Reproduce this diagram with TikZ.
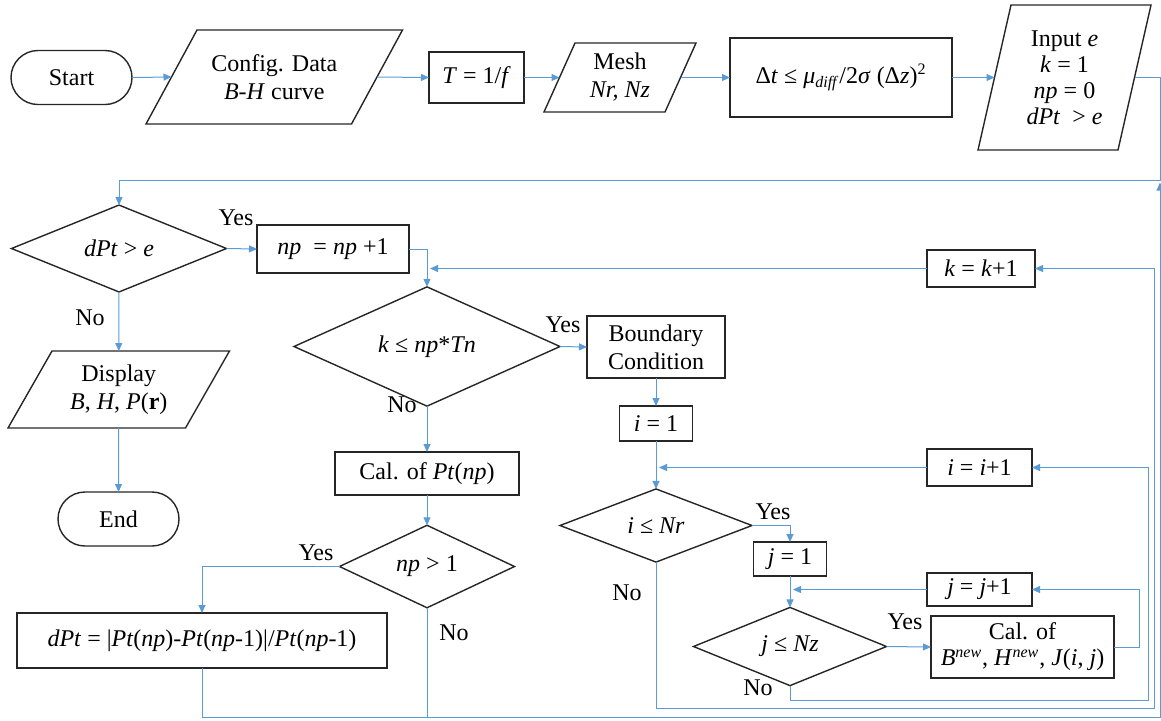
\documentclass[tikz,border=0pt]{standalone}
\usepackage{fontspec}
\setmainfont{LiberationSerif}[Extension=.ttf, UprightFont=*-Regular, ItalicFont=*-Italic, BoldFont=*-Bold, BoldItalicFont=*-BoldItalic]
\usetikzlibrary{arrows.meta,shapes.geometric,calc}
\definecolor{flow}{HTML}{5B9BD5}
% parallelogram frame around a plain node: #2 = half the horizontal slant
\newcommand\slantframe[2]{\draw[shapeline] ($(#1.north west)+(#2,0)$) -- ($(#1.north east)+(#2,0)$) -- ($(#1.south east)-(#2,0)$) -- ($(#1.south west)-(#2,0)$) -- cycle;}
\begin{document}
\begin{tikzpicture}[x=0.5pt,y=-0.5pt,
  font=\rmfamily\fontsize{12}{14}\selectfont,
  shapeline/.style={draw=black!85, line width=0.7pt},
  box/.style={shapeline, rectangle, inner sep=0pt, outer sep=0pt, align=center},
  term/.style={box, rounded corners=13.5pt},
  slant/.style={rectangle, inner sep=0pt, outer sep=0pt, align=center},
  dia/.style={shapeline, diamond, inner sep=0pt, outer sep=0pt, align=center},
  wire/.style={draw=flow, line width=0.5pt},
  conn/.style={wire, -{Triangle[length=4pt,width=3.5pt]}},
  lbl/.style={inner sep=0pt}]
\useasboundingbox (0,0) rectangle (1161,720);

% ---- top row
\node[term, minimum width=60.5pt, minimum height=27pt] (start) at (71.5,77.5) {Start};
\node[slant, minimum width=102.75pt, minimum height=47pt] (config) at (274.25,77) {Config. Data\\\textit{B-H} curve};
\slantframe{config}{25.5}
\node[box, minimum width=47.5pt, minimum height=25.5pt] (tper) at (476.5,77.5) {\textit{T} = 1/\textit{f}};
\node[slant, minimum width=60.5pt, minimum height=34.5pt] (mesh) at (620,77.5) {Mesh\\\textit{Nr, Nz}};
\slantframe{mesh}{15.5}
\node[box, minimum width=111pt, minimum height=39.5pt] (dt) at (841,77.5) {Δ\textit{t} ≤ \textit{μ}\textsubscript{\textit{diff}}/2\textit{σ} (Δ\textit{z})\textsuperscript{2}};
\node[slant, minimum width=70pt, minimum height=72.5pt, font=\rmfamily\fontsize{12}{13}\selectfont] (input) at (1064.5,77.5) {Input \textit{e}\\\textit{k} = 1\\\textit{np} = 0\\\textit{dPt}~~> \textit{e}};
\slantframe{input}{16.5}

% ---- outer loop
\node[dia, minimum width=107.5pt, minimum height=38.5pt] (dpt) at (119,248.5) {\textit{dPt} > \textit{e}};
\node[box, minimum width=76pt, minimum height=24pt] (np) at (333,249) {\textit{np}~~= \textit{np} +1};
\node[slant, minimum width=88.75pt, minimum height=38.5pt] (display) at (118.75,389.5) {Display\\\textit{B}, \textit{H}, \textit{P}(\textbf{r})};
\slantframe{display}{22}
\node[term, minimum width=60.5pt, minimum height=27pt] (end) at (118.5,519) {End};

% ---- time-step loop
\node[dia, minimum width=133pt, minimum height=37.5pt] (ktest) at (427,346.5) {\textit{k} ≤ \textit{np}*\textit{Tn}};
\node[box, minimum width=69pt, minimum height=31pt] (bc) at (656,347) {Boundary\\Condition};
\node[box, minimum width=54pt, minimum height=18.5pt] (kk) at (981,268.5) {\textit{k} = \textit{k}+1};
\node[box, minimum width=92pt, minimum height=21.5pt] (calpt) at (427,473.5) {Cal. of \textit{Pt}(\textit{np})};
\node[dia, minimum width=87.5pt, minimum height=33.5pt] (np1) at (427,566.5) {\textit{np} > 1};
\node[box, minimum width=185pt, minimum height=27.5pt] (dptcalc) at (202,640.5) {\textit{dPt} = |\textit{Pt}(\textit{np})-\textit{Pt}(\textit{np}-1)|/\textit{Pt}(\textit{np}-1)};

% ---- space loops
\node[box, minimum width=36.5pt, minimum height=17.5pt] (i1) at (656,423.5) {\textit{i} = 1};
\node[box, minimum width=52.5pt, minimum height=18.5pt] (ii) at (979.5,467.5) {\textit{i} = \textit{i}+1};
\node[dia, minimum width=96pt, minimum height=33.5pt] (inr) at (656,525.5) {\textit{i} ≤ \textit{Nr}};
\node[box, minimum width=36.5pt, minimum height=17pt] (j1) at (790,559) {\textit{j} = 1};
\node[box, minimum width=52.5pt, minimum height=16.5pt] (jj) at (979.5,589.5) {\textit{j} = \textit{j}+1};
\node[dia, minimum width=96.5pt, minimum height=33.5pt] (jnz) at (790,646.5) {\textit{j} ≤ \textit{Nz}};
\node[box, minimum width=91.5pt, minimum height=31pt, font=\rmfamily\fontsize{12}{13}\selectfont] (cal) at (1022.5,647) {Cal. of\\\textit{B}\textsuperscript{\textit{new}}, \textit{H}\textsuperscript{\textit{new}}, \textit{J}(\textit{i}, \textit{j})};

% ---- branch labels
\node[lbl] (yes1) at (236,218) {Yes};
\node[lbl] (yes2) at (563,325) {Yes};
\node[lbl] (yes3) at (316,553) {Yes};
\node[lbl] (yes4) at (773,512) {Yes};
\node[lbl] (yes5) at (905,622) {Yes};
\node[lbl] (no1) at (90,318) {No};
\node[lbl] (no2) at (402,405) {No};
\node[lbl] (no3) at (454,633) {No};
\node[lbl] (no4) at (627,593) {No};
\node[lbl] (no5) at (758,688) {No};

% ---- connectors: top row
\draw[conn] (start.east) -- (config.west);
\draw[conn] (config.east) -- (tper.west);
\draw[conn] (tper.east) -- (mesh.west);
\draw[conn] (mesh.east) -- (dt.west);
\draw[conn] (dt.east) -- (input.west);
\draw[conn] (input.east) -- (1160,77.5) -- (1160,180) -| (dpt.north);

% ---- convergence check
\draw[conn] (dpt.east) -- (np.west);
\draw[conn] (dpt.south) -- (display.north);
\draw[conn] (display.south) -- (end.north);
\draw[conn] (np.east) -| (ktest.north);
\draw[conn] (ktest.east) -- (bc.west);
\draw[conn] (ktest.south) -- (calpt.north);
\draw[conn] (calpt.south) -- (np1.north);
\draw[conn] (np1.west) -| (dptcalc.north);
\draw[wire] (np1.south) -- (427,717);
\draw[conn] (dptcalc.south) -- (202,717) -- (1160,717) -- (1160,182.5);

% ---- k loop
\draw[conn] (bc.south) -- (i1.north);
\draw[conn] (inr.south) -- (656,708) -- (1154,708) |- (kk.east);
\draw[conn] (kk.west) -- (430,268.5);

% ---- i loop
\draw[conn] (i1.south) -- (inr.north);
\draw[conn] (inr.east) -| (j1.north);
\draw[conn] (jnz.south) -- (790,700) -- (1148,700) |- (ii.east);
\draw[conn] (ii.west) -- (659,467.5);

% ---- j loop
\draw[conn] (j1.south) -- (jnz.north);
\draw[conn] (jnz.east) -- (cal.west);
\draw[conn] (cal.east) -- (1139,647) |- (jj.east);
\draw[conn] (jj.west) -- (793,589.5);
\end{tikzpicture}
\end{document}
